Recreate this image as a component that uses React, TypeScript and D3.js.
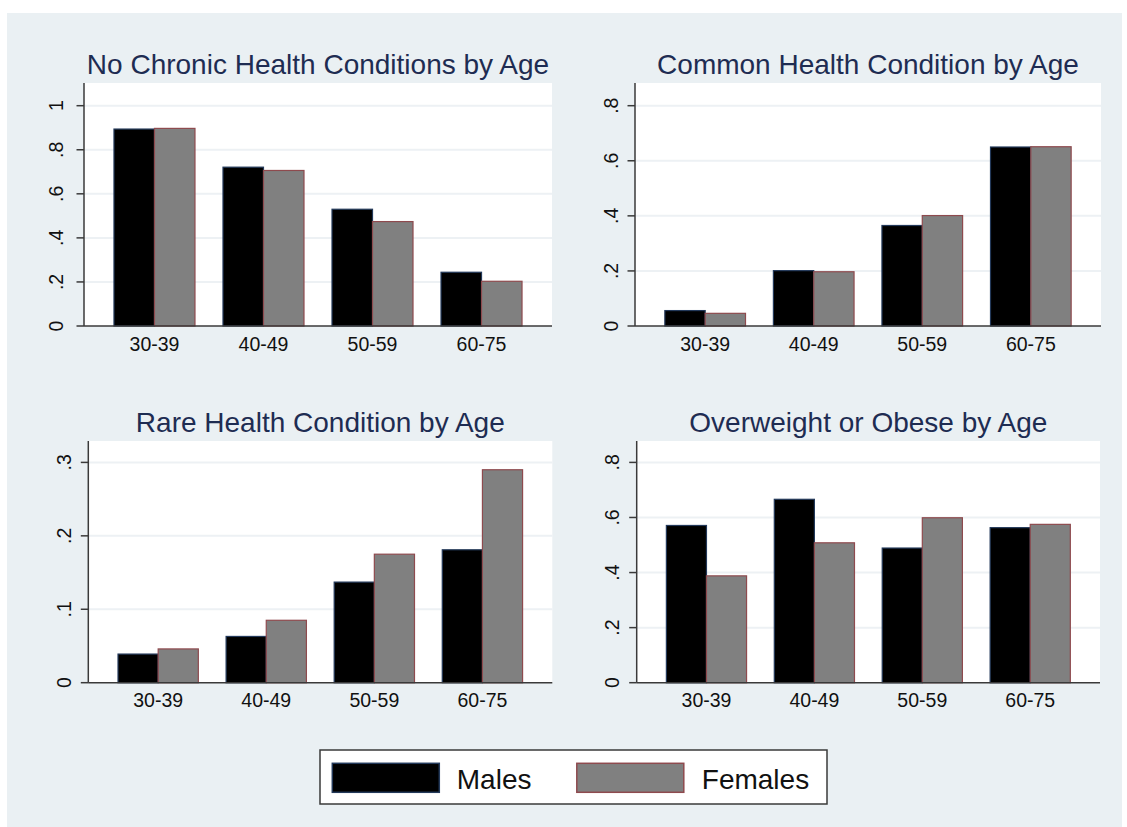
import React from "react";
import * as d3 from "d3";

const categories = ["30-39", "40-49", "50-59", "60-75"];
const seriesNames = ["Males", "Females"];

const titleNoChronic = "No Chronic Health Conditions by Age";
const titleCommon = "Common Health Condition by Age";
const titleRare = "Rare Health Condition by Age";
const titleOverweight = "Overweight or Obese by Age";

const malesNoChronic = [0.894, 0.721, 0.53, 0.244];
const femalesNoChronic = [0.897, 0.706, 0.474, 0.203];
const malesCommon = [0.056, 0.201, 0.365, 0.65];
const femalesCommon = [0.046, 0.197, 0.401, 0.651];
const malesRare = [0.039, 0.063, 0.137, 0.181];
const femalesRare = [0.046, 0.085, 0.175, 0.29];
const malesOverweight = [0.571, 0.666, 0.489, 0.563];
const femalesOverweight = [0.388, 0.508, 0.599, 0.575];

const ticksNoChronic = [0, 0.2, 0.4, 0.6, 0.8, 1];
const ticksCommon = [0, 0.2, 0.4, 0.6, 0.8];
const ticksRare = [0, 0.1, 0.2, 0.3];
const ticksOverweight = [0, 0.2, 0.4, 0.6, 0.8];

const panels = [
  { title: titleNoChronic, males: malesNoChronic, females: femalesNoChronic, ticks: ticksNoChronic },
  { title: titleCommon, males: malesCommon, females: femalesCommon, ticks: ticksCommon },
  { title: titleRare, males: malesRare, females: femalesRare, ticks: ticksRare },
  { title: titleOverweight, males: malesOverweight, females: femalesOverweight, ticks: ticksOverweight },
];

// layout frames (pixels)
const frames = [
  { x0: 84, x1: 552, yTop: 83, y0: 326, lab: 20.7 },
  { x0: 635, x1: 1101, yTop: 83, y0: 326, lab: 16.7 },
  { x0: 88.3, x1: 552.3, yTop: 441, y0: 682.7, lab: 17.3 },
  { x0: 636.7, x1: 1100, yTop: 441, y0: 682.7, lab: 17.4 },
];

const FONT = "'Liberation Sans', Arial, Helvetica, sans-serif";
const BG = "#eaf0f3";
const GRID = "#edf1f4";
const TITLE = "#1e2c52";
const AXIS = "#3a3a3a";
const MALE_FILL = "#000000";
const MALE_STROKE = "#23395a";
const FEMALE_FILL = "#808080";
const FEMALE_STROKE = "#8e4a4e";

function fmtTick(v: number) {
  if (v === 0) return "0";
  if (v === 1) return "1";
  return d3.format(".1f")(v).replace(/^0/, "");
}

function Panel({ p, f }: { p: typeof panels[0]; f: typeof frames[0] }) {
  const maxTick = p.ticks[p.ticks.length - 1];
  const y = d3.scaleLinear().domain([0, maxTick]).range([f.y0, f.y0 - 220.3]);
  const x = d3
    .scaleBand<string>()
    .domain(categories)
    .range([f.x0, f.x1])
    .paddingInner(0.257)
    .paddingOuter(0.275);
  const xs = d3.scaleBand<string>().domain(seriesNames).range([0, x.bandwidth()]);
  const series = [
    { name: "Males", vals: p.males, fill: MALE_FILL, stroke: MALE_STROKE },
    { name: "Females", vals: p.females, fill: FEMALE_FILL, stroke: FEMALE_STROKE },
  ];
  return (
    <g>
      <rect x={f.x0} y={f.yTop} width={f.x1 - f.x0} height={f.y0 - f.yTop} fill="#ffffff" />
      {p.ticks
        .filter((t) => t !== 0)
        .map((t) => (
          <line key={"g" + t} x1={f.x0} x2={f.x1} y1={y(t)} y2={y(t)} stroke={GRID} strokeWidth={2} />
        ))}
      {series.map((s) =>
        categories.map((c, i) => (
          <rect
            key={s.name + c}
            x={(x(c) as number) + (xs(s.name) as number)}
            y={y(s.vals[i])}
            width={xs.bandwidth()}
            height={f.y0 - y(s.vals[i])}
            fill={s.fill}
            stroke={s.stroke}
            strokeWidth={1.2}
          />
        ))
      )}
      <line x1={f.x0} x2={f.x0} y1={f.yTop} y2={f.y0} stroke={AXIS} strokeWidth={1.5} />
      <line x1={f.x0} x2={f.x1} y1={f.y0} y2={f.y0} stroke={AXIS} strokeWidth={1.5} />
      {p.ticks.map((t) => (
        <g key={"t" + t}>
          <line x1={f.x0 - 7.5} x2={f.x0} y1={y(t)} y2={y(t)} stroke={AXIS} strokeWidth={1.5} />
          <text
            transform={`translate(${f.x0 - f.lab},${y(t)}) rotate(-90)`}
            textAnchor="middle"
            fontFamily={FONT}
            fontSize={19.5}
            fill="#111"
          >
            {fmtTick(t)}
          </text>
        </g>
      ))}
      {categories.map((c) => (
        <text
          key={"x" + c}
          x={(x(c) as number) + x.bandwidth() / 2}
          y={f.y0 + 24.6}
          textAnchor="middle"
          fontFamily={FONT}
          fontSize={19.5}
          fill="#111"
        >
          {c}
        </text>
      ))}
      <text
        x={(f.x0 + f.x1) / 2}
        y={f.yTop - 8.6}
        textAnchor="middle"
        fontFamily={FONT}
        fontSize={28}
        fill={TITLE}
      >
        {p.title}
      </text>
    </g>
  );
}

export default function App() {
  return (
    <svg
      width={1127}
      height={827}
      style={{ position: "absolute", left: 0, top: 0, display: "block" }}
    >
      <rect x={0} y={0} width={1127} height={827} fill="#ffffff" />
      <rect x={7} y={13} width={1115} height={814} fill={BG} />
      {panels.map((p, i) => (
        <Panel key={i} p={p} f={frames[i]} />
      ))}
      <g>
        <rect x={320} y={750} width={507} height={54} fill="#ffffff" stroke={AXIS} strokeWidth={1.5} />
        <rect x={332.3} y={763.3} width={107} height={29} fill={MALE_FILL} stroke={MALE_STROKE} strokeWidth={1.5} />
        <text x={456.8} y={789} fontFamily={FONT} fontSize={28} fill="#111">
          {seriesNames[0]}
        </text>
        <rect x={576.8} y={763.3} width={107} height={29} fill={FEMALE_FILL} stroke={FEMALE_STROKE} strokeWidth={1.5} />
        <text x={701.8} y={789} fontFamily={FONT} fontSize={28} fill="#111">
          {seriesNames[1]}
        </text>
      </g>
    </svg>
  );
}
